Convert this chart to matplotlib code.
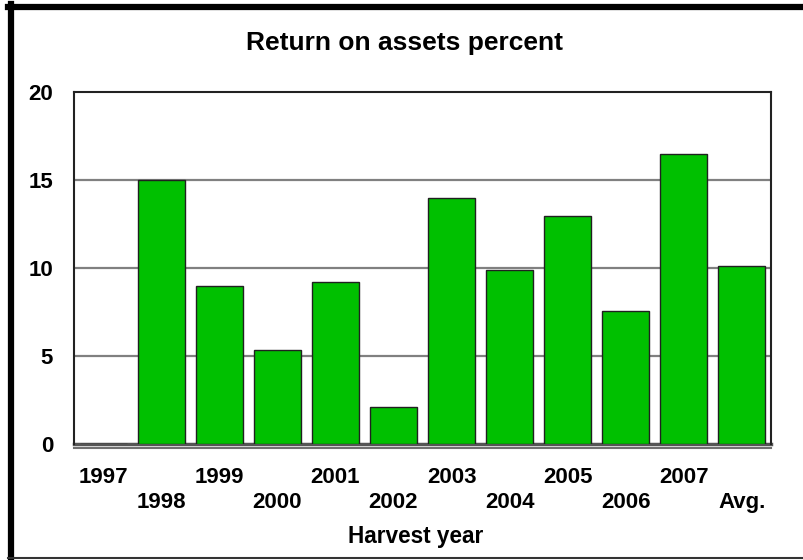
import matplotlib
matplotlib.use("Agg")
import matplotlib.pyplot as plt
from matplotlib.lines import Line2D

years = ["1997", "1998", "1999", "2000", "2001", "2002", "2003",
         "2004", "2005", "2006", "2007", "Avg."]
values = [0.0, 15.0, 9.0, 5.35, 9.2, 2.1, 14.0, 9.9, 12.95, 7.55, 16.5, 10.1]
yticks = [0, 5, 10, 15, 20]

plt.rcParams['font.family'] = ['Liberation Sans', 'DejaVu Sans']
plt.rcParams['font.weight'] = 'bold'

fig = plt.figure(figsize=(8.04, 5.6), dpi=100)
ax = fig.add_axes([74/804, 116/560, (771-74)/804, (444-92)/560])

x = list(range(len(years)))
ax.bar(x, values, width=0.81, color='#00C000', edgecolor='#202020', linewidth=1.0, zorder=3)

ax.set_xlim(-0.5, len(years) - 0.5)
ax.set_ylim(0, 20)
ax.set_yticks(yticks)
ax.set_yticklabels([str(t) for t in yticks], fontsize=16, fontweight='bold')
ax.tick_params(axis='y', length=0, pad=15)
ax.set_xticks([])
for yv in yticks[1:-1]:
    ax.axhline(yv, color='#808080', lw=1.6, zorder=1)

for s in ['left', 'top', 'right']:
    ax.spines[s].set_color('#222222')
    ax.spines[s].set_linewidth(1.5)
ax.spines['bottom'].set_color('#555555')
ax.spines['bottom'].set_linewidth(2.5)
ax.spines['bottom'].set_zorder(2)

# floor line below baseline
ax.plot([-0.5, len(years) - 0.5], [-0.22, -0.22], color='#707070', lw=1.5,
        clip_on=False, transform=ax.transData)

for i, lab in enumerate(years):
    yoff = -1.9 if i % 2 == 0 else -3.32
    ax.text(i, yoff, lab, ha='center', va='center', fontsize=16, fontweight='bold',
            clip_on=False)

fig.text(404/804, 1 - 43/560, "Return on assets percent", ha='center', va='center',
         fontsize=19, fontweight='bold')
fig.text(416/804, 1 - 537/560, "Harvest year", ha='center', va='center',
         fontsize=16.3, fontweight='bold')

# outer frame (thick left/top, thin bottom)
fig.add_artist(Line2D([11/804, 11/804], [1 - 4/560, 1 - 559/560], color='black', lw=4.5,
                      transform=fig.transFigure))
fig.add_artist(Line2D([8/804, 1.0], [1 - 7/560, 1 - 7/560], color='black', lw=4.5,
                      transform=fig.transFigure))
fig.add_artist(Line2D([8/804, 1.0], [1 - 558/560, 1 - 558/560], color='#333333', lw=1.5,
                      transform=fig.transFigure))

fig.savefig("out.png", dpi=100)
